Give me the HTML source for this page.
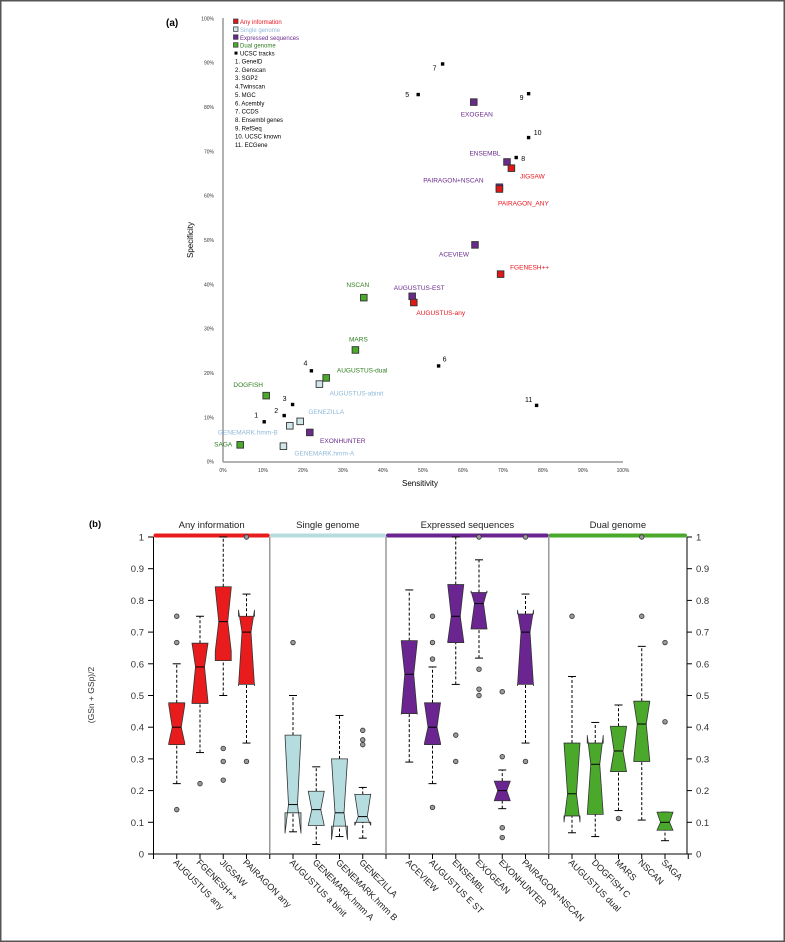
<!DOCTYPE html>
<html><head><meta charset="utf-8"><style>
html,body{margin:0;padding:0;background:#fff}
svg{display:block;font-family:"Liberation Sans",sans-serif}
</style></head><body>
<svg id="fig" width="785" height="942" viewBox="0 0 785 942">
<rect x="0.5" y="0.5" width="784" height="941" fill="#fff" stroke="#555" stroke-width="2"/>
<g id="panelA"></g>
<g id="panelB"></g>
</svg>
<script>
// ---- Panel (a) data ----
const ptNames = ["EXOGEAN","ENSEMBL","JIGSAW","PAIRAGON+NSCAN","PAIRAGON_ANY","ACEVIEW","FGENESH++","NSCAN","AUGUSTUS-EST","AUGUSTUS-any","MARS","AUGUSTUS-dual","AUGUSTUS-abinit","DOGFISH","GENEZILLA","GENEMARK.hmm-B","EXONHUNTER","SAGA","GENEMARK.hmm-A"];
const ptGroup = ["exp","exp","any","exp","any","exp","any","dual","exp","any","dual","dual","single","dual","single","single","exp","dual","single"];
const ptSens = [62.7,71.0,72.1,69.1,69.1,63.0,69.4,35.2,47.3,47.7,33.1,25.8,24.1,10.8,19.3,16.7,21.7,4.3,15.1];
const ptSpec = [81.1,67.6,66.2,61.9,61.5,48.9,42.3,37.0,37.3,35.9,25.2,18.9,17.5,14.9,9.1,8.1,6.6,3.8,3.5];
const ptLblDx = [3,-22,21,-46,24,-21,29,-6,7,27,3,36,37,-18,26,-42,33,-17,41];
const ptLblDy = [12,-9,8,-7,14,9,-7,-13,-9,10,-11,-8,9,-11,-10,6,8,-1,7];
const ucscIds = ["1","2","3","4","5","6","7","8","9","10","11"];
const ucscSens = [10.3,15.3,17.4,22.1,48.8,53.9,54.9,73.3,76.4,76.4,78.4];
const ucscSpec = [9.0,10.4,12.9,20.5,82.8,21.6,89.7,68.6,83.0,73.1,12.7];
const ucscDx = [-8,-8,-8,-6,-11,6,-8,7,-7,9,-8];
const ucscDy = [-7,-5,-6,-8,0,-7,4,1,4,-5,-6];
const legendItems = ["Any information","Single genome","Expressed sequences","Dual genome","UCSC tracks"];
const trackNames = ["1. GeneID","2. Genscan","3. SGP2","4.Twinscan","5. MGC","6. Acembly","7. CCDS","8. Ensembl genes","9. RefSeq","10. UCSC known","11. ECGene"];
const pctTicks = [0,10,20,30,40,50,60,70,80,90,100];

// ---- Panel (b) data ----
const cats = ["AUGUSTUS  any","FGENESH++","JIGSAW","PAIRAGON  any","AUGUSTUS a binit","GENEMARK.hmm  A","GENEMARK.hmm  B","GENEZILLA","ACEVIEW","AUGUSTUS E ST","ENSEMBL","EXOGEAN","EXONHUNTER","PAIRAGON+NSCAN","AUGUSTUS  dual","DOGFISH  C","MARS","NSCAN","SAGA"];
const catGroup = ["any","any","any","any","single","single","single","single","exp","exp","exp","exp","exp","exp","dual","dual","dual","dual","dual"];
const catSlot = [1,2,3,4,6,7,8,9,11,12,13,14,15,16,18,19,20,21,22];
const q1 = [0.345,0.475,0.61,0.535,0.13,0.09,0.088,0.10,0.443,0.345,0.667,0.71,0.168,0.535,0.12,0.125,0.26,0.292,0.075];
const med = [0.40,0.59,0.733,0.70,0.156,0.14,0.13,0.118,0.567,0.40,0.75,0.79,0.20,0.70,0.19,0.283,0.325,0.41,0.10];
const q3 = [0.477,0.665,0.843,0.75,0.375,0.198,0.30,0.188,0.673,0.477,0.85,0.825,0.23,0.757,0.35,0.35,0.403,0.482,0.132];
const wLo = [0.222,0.32,0.50,0.35,0.07,0.03,0.055,0.05,0.29,0.222,0.535,0.618,0.143,0.35,0.067,0.055,0.137,0.107,0.042];
const wHi = [0.60,0.75,1.0,0.82,0.50,0.275,0.437,0.21,0.833,0.59,1.0,0.928,0.265,0.82,0.56,0.415,0.47,0.655,0.132];
const nLo = [0.35,0.48,0.64,0.53,0.065,0.09,0.045,0.09,0.44,0.35,0.67,0.71,0.168,0.53,0.10,0.125,0.26,0.295,0.075];
const nHi = [0.47,0.665,0.84,0.77,0.375,0.198,0.30,0.19,0.67,0.477,0.85,0.83,0.23,0.77,0.35,0.375,0.40,0.48,0.132];
const outliers = [[0.75,0.667,0.14],[0.222],[0.333,0.292,0.233],[1.0,0.292],[0.667],[],[],[0.39,0.36,0.345],[],[0.75,0.667,0.615,0.147],[0.375,0.292],[1.0,0.583,0.52,0.5],[0.512,0.307,0.083,0.052],[1.0,0.292],[0.75],[],[0.112],[1.0,0.75],[0.667,0.417]];
const yTicksB = [0,0.1,0.2,0.3,0.4,0.5,0.6,0.7,0.8,0.9,1];
const groupKeys = ["any","single","exp","dual"];
const groupTitles = ["Any information","Single genome","Expressed sequences","Dual genome"];
const groupStart = [0,5,10,17];
const groupEnd = [5,10,17,23];

const NS = "http://www.w3.org/2000/svg";
function mk(parent, tag, attrs){ const e=document.createElementNS(NS,tag); for(const k in attrs) e.setAttribute(k,attrs[k]); parent.appendChild(e); return e; }
const colFill = {any:"#e81c1c",single:"#b5dde0",exp:"#6a2590",dual:"#4aa82a"};
const colTxt = {any:"#e8141c",single:"#8fb8d8",exp:"#6a2a8c",dual:"#2e7d1e"};
const mkFill = {any:"#e01818",single:"#cfe6ea",exp:"#6a2a8c",dual:"#4aa82a"};

// ===== Panel (a) =====
const gA = document.getElementById('panelA');
const ax = s => 223 + 4*s;
const ay = p => 461.7 - 4.434*p;
let t;
t = mk(gA,'text',{x:166,y:26,'font-size':10,'font-weight':'bold'}); t.textContent="(a)";
 
let l = mk(gA,'line',{x1:223,y1:18,x2:223,y2:462,stroke:'#999','stroke-width':1.5});
 
l = mk(gA,'line',{x1:223,y1:462,x2:623,y2:462,stroke:'#999','stroke-width':1.5});
 
pctTicks.forEach(v=>{
  let a = mk(gA,'text',{x:214,y:ay(v)+2,'font-size':5,'text-anchor':'end',fill:'#333'}); a.textContent=v+"%";
   
  let b = mk(gA,'text',{x:ax(v),y:472,'font-size':5,'text-anchor':'middle',fill:'#333'}); b.textContent=v+"%";
   
});
t = mk(gA,'text',{x:420,y:486,'font-size':8,'text-anchor':'middle'}); t.textContent="Sensitivity";
 
t = mk(gA,'text',{x:0,y:0,'font-size':8,'text-anchor':'middle',transform:'translate(193,240) rotate(-90)'}); t.textContent="Specificity";
 
const lgKeys = ["any","single","exp","dual","ucsc"];
legendItems.forEach((s,i)=>{
  const y = 24 + i*7.9;
  const k = lgKeys[i];
  let r;
  if(k==="ucsc") r = mk(gA,'rect',{x:234.5,y:y-4,width:3,height:3,fill:'#000'});
  else r = mk(gA,'rect',{x:233.5,y:y-5,width:4.5,height:4.5,fill:mkFill[k],stroke:'#333','stroke-width':0.7});
   
  let tt = mk(gA,'text',{x:240,y:y,'font-size':6,fill:k==="ucsc"?'#000':colTxt[k]}); tt.textContent=s;
   
});
trackNames.forEach((s,i)=>{
  let tt = mk(gA,'text',{x:235,y:63.5+i*8.35,'font-size':6,fill:'#000'}); tt.textContent=s;
   
});
ucscIds.forEach((id,i)=>{
  const x=ax(ucscSens[i]), y=ay(ucscSpec[i]);
  let r = mk(gA,'rect',{x:x-1.7,y:y-1.7,width:3.4,height:3.4,fill:'#000'});
   
  let tt = mk(gA,'text',{x:x+ucscDx[i],y:y+ucscDy[i]+2.5,'font-size':7,'text-anchor':'middle'}); tt.textContent=id;
   
});
ptNames.forEach((n,i)=>{
  const x=ax(ptSens[i]), y=ay(ptSpec[i]), g=ptGroup[i];
  let r = mk(gA,'rect',{x:x-3.3,y:y-3.3,width:6.6,height:6.6,fill:mkFill[g],stroke:'#333','stroke-width':0.9});
   
  let tt = mk(gA,'text',{x:x+ptLblDx[i],y:y+ptLblDy[i]+2.5,'font-size':6.5,'text-anchor':'middle',fill:colTxt[g]}); tt.textContent=n;
   
});

// ===== Panel (b) =====
const gB = document.getElementById('panelB');
const bx = s => 153.5 + 23.25*s;
const by = v => 854 - 317*v;
const R = 687;
t = mk(gB,'text',{x:89,y:527,'font-size':9.5,'font-weight':'bold'}); t.textContent="(b)";
 
t = mk(gB,'text',{x:0,y:0,'font-size':8.5,'text-anchor':'middle',fill:'#333',transform:'translate(94,695) rotate(-90)'}); t.textContent="(GSn + GSp)/2";
 
l = mk(gB,'line',{x1:153.5,y1:537,x2:153.5,y2:854,stroke:'#000','stroke-width':1});
 
l = mk(gB,'line',{x1:R,y1:537,x2:R,y2:854,stroke:'#000','stroke-width':1});
 
l = mk(gB,'line',{x1:148,y1:854,x2:R,y2:854,stroke:'#000','stroke-width':1});
 
yTicksB.forEach(v=>{
  const y=by(v);
  let a=mk(gB,'line',{x1:148,y1:y,x2:153.5,y2:y,stroke:'#000'});
   
  a=mk(gB,'line',{x1:R,y1:y,x2:R+5,y2:y,stroke:'#000'});
   
  a=mk(gB,'text',{x:144,y:y+3.5,'font-size':9.5,'text-anchor':'end',fill:'#333'}); a.textContent=String(v);
   
  a=mk(gB,'text',{x:696,y:y+3.5,'font-size':9.5,fill:'#333'}); a.textContent=String(v);
   
});
groupKeys.forEach((k,i)=>{
  const x1=bx(groupStart[i]), x2=(i===3)?R:bx(groupEnd[i]);
  let r=mk(gB,'rect',{x:x1,y:533.5,width:x2-x1,height:4,rx:2,fill:colFill[k]});
   
  let tt=mk(gB,'text',{x:(x1+x2)/2,y:528,'font-size':9.5,'text-anchor':'middle',fill:'#222'}); tt.textContent=groupTitles[i];
   
  if(i>0){ let d=mk(gB,'line',{x1:x1,y1:537,x2:x1,y2:854,stroke:'#999','stroke-width':1.5});
      }
});
for(let s=0;s<=23;s++){
  const x=bx(s);
  let a=mk(gB,'line',{x1:x,y1:854,x2:x,y2:859,stroke:'#000'});
   
}
cats.forEach((c,i)=>{
  const x=bx(catSlot[i]), g=catGroup[i];
  const hw=8, iw=4.5;
  let w=mk(gB,'line',{x1:x,y1:by(wLo[i]),x2:x,y2:by(q1[i]),stroke:'#000','stroke-dasharray':'3,2'});
   
  w=mk(gB,'line',{x1:x,y1:by(q3[i]),x2:x,y2:by(wHi[i]),stroke:'#000','stroke-dasharray':'3,2'});
   
  w=mk(gB,'line',{x1:x-4,y1:by(wLo[i]),x2:x+4,y2:by(wLo[i]),stroke:'#000'});
   
  w=mk(gB,'line',{x1:x-4,y1:by(wHi[i]),x2:x+4,y2:by(wHi[i]),stroke:'#000'});
   
  const pts=[[x-hw,by(q3[i])],[x-hw,by(nHi[i])],[x-iw,by(med[i])],[x-hw,by(nLo[i])],[x-hw,by(q1[i])],
    [x+hw,by(q1[i])],[x+hw,by(nLo[i])],[x+iw,by(med[i])],[x+hw,by(nHi[i])],[x+hw,by(q3[i])]];
  let p=mk(gB,'polygon',{points:pts.map(q=>q.join(',')).join(' '),fill:colFill[g],stroke:'#333','stroke-width':0.8});
   
  let m=mk(gB,'line',{x1:x-iw,y1:by(med[i]),x2:x+iw,y2:by(med[i]),stroke:'#000','stroke-width':1});
   
  outliers[i].forEach(v=>{
    let o=mk(gB,'circle',{cx:x,cy:by(v),r:2.3,fill:'#999',stroke:'#333','stroke-width':0.8});
     
  });
  let tt=mk(gB,'text',{x:0,y:0,'font-size':9,fill:'#222',transform:`translate(${x-4},${863}) rotate(45)`}); tt.textContent=c;
   
});
</script>
</body></html>
